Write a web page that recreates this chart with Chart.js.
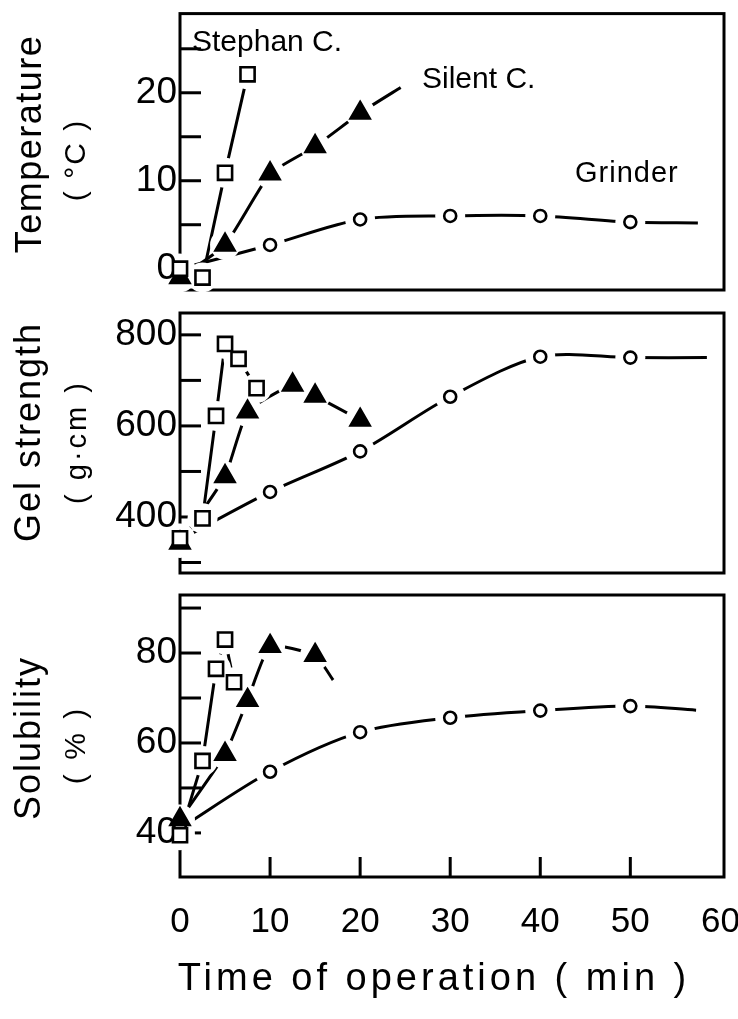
<!DOCTYPE html>
<html>
<head>
<meta charset="utf-8">
<script src="https://cdn.jsdelivr.net/npm/chart.js@4.4.1/dist/chart.umd.min.js"></script>
<style>
  body { margin: 0; background: #fff; }
  canvas { position: absolute; left: 0; top: 0; }
</style>
</head>
<body>
<canvas id="chartTemp" width="738" height="1019"></canvas>
<canvas id="chartGel" width="738" height="1019"></canvas>
<canvas id="chartSol" width="738" height="1019"></canvas>
<script>
// ---------- data ----------
const minuteTicks = [0, 10, 20, 30, 40, 50, 60];

// Temperature (°C)
const tempTicks = [0, 5, 10, 15, 20, 25];
const stephanTempX = [0, 2.5, 5, 7.5];
const stephanTempY = [0, -1, 10.9, 22.1];
const silentTempX = [0, 5, 10, 15, 20];
const silentTempY = [-1, 2.7, 10.8, 13.9, 17.7];
const silentTempTailX = [24.5];
const silentTempTailY = [20.6];
const grinderTempX = [0, 10, 20, 30, 40, 50];
const grinderTempY = [0, 2.7, 5.6, 6.0, 6.0, 5.3];
const grinderTempTailX = [57.5];
const grinderTempTailY = [5.2];

// Gel strength (g·cm)
const gelTicks = [300, 400, 500, 600, 700, 800];
const stephanGelX = [0, 2.5, 4, 5, 6.5, 8.5];
const stephanGelY = [353, 397, 622, 780, 747, 683];
const silentGelX = [0, 5, 7.5, 12.5, 15, 20];
const silentGelY = [343, 489, 631, 690, 666, 613];
const grinderGelX = [0, 10, 20, 30, 40, 50];
const grinderGelY = [350, 455, 544, 664, 752, 750];
const grinderGelTailX = [58.5];
const grinderGelTailY = [750];

// Solubility (%)
const solTicks = [40, 50, 60, 70, 80, 90];
const stephanSolX = [0, 2.5, 4, 5, 6];
const stephanSolY = [39.5, 56, 76.5, 83, 73.5];
const silentSolX = [0, 5, 7.5, 10, 15];
const silentSolY = [43, 57.5, 69.5, 81.5, 79.5];
const silentSolTailX = [17];
const silentSolTailY = [74];
const grinderSolX = [0, 10, 20, 30, 40, 50];
const grinderSolY = [41, 53.6, 62.4, 65.6, 67.2, 68.2];
const grinderSolTailX = [57.3];
const grinderSolTailY = [67.3];

// ---------- helpers ----------
const FONT = "'Liberation Sans', Arial, sans-serif";
const pts = (xs, ys) => xs.map((x, i) => ({ x: x, y: ys[i] }));

const STEPHAN = { pointStyle: 'rect', radius: 10, fill: '#fff', tension: 0, gap: 15 };
const SILENT = { pointStyle: 'triangle', radius: 11, fill: '#000', tension: 0.15, gap: 15 };
const GRINDER = { pointStyle: 'circle', radius: 6, fill: '#fff', tension: 0.3, gap: 15 };

// one curve (with its hand-drawn tail) + its marks
function series(xs, ys, tailX, tailY, st) {
  return [
    {
      data: pts(xs.concat(tailX), ys.concat(tailY)),
      showLine: true, borderColor: '#000', borderWidth: 3,
      pointRadius: 0, tension: st.tension, clip: false
    },
    {
      role: 'marks', gap: st.gap,
      data: pts(xs, ys), showLine: false, pointStyle: st.pointStyle,
      pointRadius: st.radius, pointBackgroundColor: st.fill,
      pointBorderColor: '#000', pointBorderWidth: 2.6, clip: false
    }
  ];
}

// box round the plot area and the inward tick marks
const framePlugin = {
  id: 'frame',
  beforeDatasetsDraw(chart) {
    const { ctx, chartArea: a, scales } = chart;
    ctx.save();
    ctx.strokeStyle = '#000';
    ctx.lineWidth = 3;
    ctx.strokeRect(a.left, a.top, a.right - a.left, a.bottom - a.top);
    scales.y.ticks.forEach(t => {
      const py = scales.y.getPixelForValue(t.value);
      ctx.beginPath(); ctx.moveTo(a.left, py); ctx.lineTo(a.left + 21, py); ctx.stroke();
    });
    if (scales.x.options.display) {
      scales.x.ticks.forEach(t => {
        if (t.value <= 0 || t.value >= 60) return;
        const px = scales.x.getPixelForValue(t.value);
        ctx.beginPath(); ctx.moveTo(px, a.bottom); ctx.lineTo(px, a.bottom - 20); ctx.stroke();
      });
    }
    ctx.restore();
  }
};

// marks go on last, each with a white gap that breaks the curves around it
const marksPlugin = {
  id: 'marks',
  beforeDatasetDraw(chart, args) {
    if (chart.data.datasets[args.index].role === 'marks') return false;
  },
  afterDatasetsDraw(chart) {
    const { ctx, chartArea: a, width, height } = chart;
    const marks = chart.data.datasets
      .map((ds, i) => (ds.role === 'marks' ? { gap: ds.gap, meta: chart.getDatasetMeta(i) } : null))
      .filter(m => m)
      .reverse();
    ctx.save();
    // gaps may break the axis line but must leave the tick labels alone
    ctx.beginPath();
    ctx.rect(a.left - 2, 0, width, height);
    ctx.clip();
    ctx.fillStyle = '#fff';
    marks.forEach(m => m.meta.data.forEach(el => {
      ctx.beginPath(); ctx.arc(el.x, el.y, m.gap, 0, Math.PI * 2); ctx.fill();
    }));
    ctx.restore();
    marks.forEach(m => m.meta.data.forEach(el => el.draw(ctx, undefined)));
  }
};

// free text: axis titles and curve names
const textPlugin = {
  id: 'texts',
  afterDraw(chart, args, opts) {
    const ctx = chart.ctx;
    (opts.items || []).forEach(it => {
      ctx.save();
      ctx.fillStyle = '#000';
      ctx.font = it.size + 'px ' + FONT;
      ctx.letterSpacing = (it.spacing || 0) + 'px';
      ctx.textAlign = it.align || 'center';
      ctx.textBaseline = it.baseline || 'middle';
      ctx.translate(it.x, it.y);
      if (it.rotate) ctx.rotate(it.rotate);
      ctx.fillText(it.text, 0, 0);
      ctx.restore();
    });
  }
};

// keep the plot box exactly where the layout padding puts it
const noOverhang = s => {
  s.paddingTop = 0; s.paddingBottom = 0; s.paddingLeft = 0; s.paddingRight = 0;
};

function makePanel(id, p) {
  return new Chart(document.getElementById(id), {
    type: 'scatter',
    data: { datasets: p.datasets },
    options: {
      responsive: false,
      animation: false,
      events: [],
      layout: { padding: { left: 0, right: 14, top: p.top, bottom: p.bottom } },
      plugins: { legend: { display: false }, tooltip: { enabled: false }, texts: { items: p.texts } },
      scales: {
        x: {
          type: 'linear', min: 0, max: 60.4,
          display: p.showX,
          afterBuildTicks: s => { s.ticks = minuteTicks.map(v => ({ value: v })); },
          afterFit: s => { s.height = p.showX ? 142 : 0; noOverhang(s); },
          grid: { display: false, drawTicks: false },
          border: { display: false },
          ticks: { color: '#000', font: { family: FONT, size: 35 }, padding: 24, autoSkip: false, maxRotation: 0 }
        },
        y: {
          type: 'linear', min: p.yMin, max: p.yMax,
          afterBuildTicks: s => { s.ticks = p.yTicks.map(v => ({ value: v })); },
          afterFit: s => { s.width = 180; noOverhang(s); },
          grid: { display: false, drawTicks: false },
          border: { display: false },
          ticks: {
            color: '#000', font: { family: FONT, size: 37 }, padding: 3, autoSkip: false,
            callback: v => (p.yLabels.includes(v) ? String(v) : '')
          }
        }
      }
    },
    plugins: [framePlugin, marksPlugin, textPlugin]
  });
}

const UP = -Math.PI / 2;

makePanel('chartTemp', {
  top: 4, bottom: 729, showX: false,
  yMin: -2.42, yMax: 29, yTicks: tempTicks, yLabels: [0, 10, 20],
  datasets: [].concat(
    series(stephanTempX, stephanTempY, [], [], STEPHAN),
    series(silentTempX, silentTempY, silentTempTailX, silentTempTailY, SILENT),
    series(grinderTempX, grinderTempY, grinderTempTailX, grinderTempTailY, GRINDER)
  ),
  texts: [
    { text: 'Temperature', x: 31, y: 144, size: 36, spacing: 1.5, rotate: UP },
    { text: '( °C )', x: 77, y: 160, size: 30, spacing: 2, rotate: UP },
    { text: 'Stephan C.', x: 192, y: 51, size: 30, align: 'left', baseline: 'alphabetic' },
    { text: 'Silent C.', x: 422, y: 88, size: 30, align: 'left', baseline: 'alphabetic' },
    { text: 'Grinder', x: 575, y: 182, size: 29, spacing: 1, align: 'left', baseline: 'alphabetic' }
  ]
});

makePanel('chartGel', {
  top: 313, bottom: 446, showX: false,
  yMin: 277, yMax: 848, yTicks: gelTicks, yLabels: [400, 600, 800],
  datasets: [].concat(
    series(stephanGelX, stephanGelY, [], [], STEPHAN),
    series(silentGelX, silentGelY, [], [], SILENT),
    series(grinderGelX, grinderGelY, grinderGelTailX, grinderGelTailY, GRINDER)
  ),
  texts: [
    { text: 'Gel strength', x: 30, y: 432, size: 36, spacing: 2, rotate: UP },
    { text: '( g·cm )', x: 78, y: 442, size: 29, spacing: 3, rotate: UP }
  ]
});

makePanel('chartSol', {
  top: 595, bottom: 0, showX: true,
  yMin: 30.2, yMax: 92.9, yTicks: solTicks, yLabels: [40, 60, 80],
  datasets: [].concat(
    series(stephanSolX, stephanSolY, [], [], STEPHAN),
    series(silentSolX, silentSolY, silentSolTailX, silentSolTailY, SILENT),
    series(grinderSolX, grinderSolY, grinderSolTailX, grinderSolTailY, GRINDER)
  ),
  texts: [
    { text: 'Solubility', x: 30, y: 738, size: 36, spacing: 2, rotate: UP },
    { text: '( % )', x: 77, y: 745, size: 30, spacing: 3, rotate: UP },
    { text: 'Time of operation ( min )', x: 434, y: 980, size: 38, spacing: 4 }
  ]
});
</script>
</body>
</html>
